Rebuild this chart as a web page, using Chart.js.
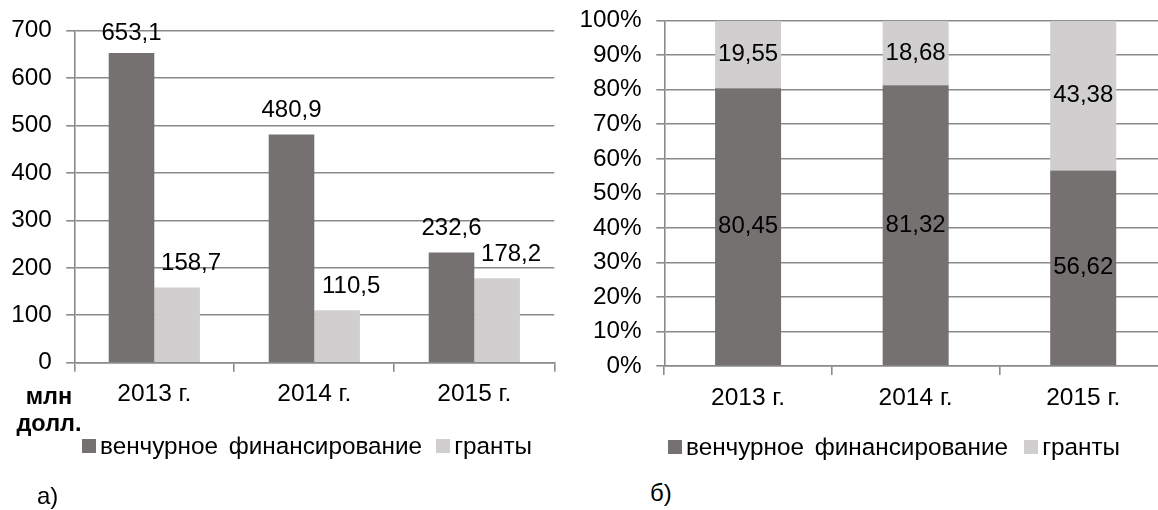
<!DOCTYPE html>
<html>
<head>
<meta charset="utf-8">
<script src="https://cdn.jsdelivr.net/npm/chart.js@4/dist/chart.umd.min.js"></script>
<style>
  html, body { margin: 0; padding: 0; background: #fff; overflow: hidden; width: 1158px; height: 510px; }
  body { position: relative; font-family: "Liberation Sans", Arial, sans-serif; color: #000; }
  canvas { position: absolute; top: 0; }
  #chartA { left: 0; }
  #chartB { left: 580px; }
  .legend { position: absolute; display: flex; align-items: center; font-size: 24.3px; white-space: nowrap; word-spacing: 4px; }
  .legend .box { display: inline-block; width: 14px; height: 14px; margin-right: 4px; }
  .legend .item { display: flex; align-items: center; }
  .unit { position: absolute; left: 0; width: 98px; text-align: center; font-weight: bold; font-size: 23.5px; line-height: 26.7px; top: 383px; }
  .tag { position: absolute; font-size: 24px; }
</style>
</head>
<body>
<canvas id="chartA" width="570" height="410"></canvas>
<canvas id="chartB" width="597" height="410"></canvas>
<div class="unit">млн<br>долл.</div>
<div class="legend" id="legendA" style="left:82px; top:432px;"></div>
<div class="legend" id="legendB" style="left:668px; top:433px;"></div>
<div class="tag" style="left:37px; top:482px;">а)</div>
<div class="tag" style="left:650px; top:479px;">б)</div>
<script>
// Data
const years = ['2013 г.', '2014 г.', '2015 г.'];
const seriesNames = ['венчурное финансирование', 'гранты'];
const ventureMln = [653.1, 480.9, 232.6];
const grantsMln = [158.7, 110.5, 178.2];
const ventureShare = [80.45, 81.32, 56.62];
const grantsShare = [19.55, 18.68, 43.38];
const mlnTicks = [0, 100, 200, 300, 400, 500, 600, 700];
const shareTicks = [0, 10, 20, 30, 40, 50, 60, 70, 80, 90, 100];

const DARK = '#767171', LIGHT = '#d0cece', GRID = '#8a8a8a';
Chart.defaults.font.family = '"Liberation Sans", Arial, sans-serif';
Chart.defaults.font.size = 24.3;
Chart.defaults.color = '#000';

// value labels on bars
const valueLabels = {
  id: 'valueLabels',
  afterDatasetsDraw(chart, args, opts) {
    const ctx = chart.ctx;
    ctx.save();
    ctx.font = '24px "Liberation Sans", Arial, sans-serif';
    ctx.fillStyle = '#000';
    ctx.textAlign = 'center';
    ctx.textBaseline = 'middle';
    chart.data.datasets.forEach((ds, i) => {
      chart.getDatasetMeta(i).data.forEach((bar, j) => {
        const txt = ds.data[j].toFixed(opts.digits).replace('.', ',');
        const x = bar.x + (opts.dx ? opts.dx[i] : 0);
        let y;
        if (opts.inside) y = (bar.y + bar.base) / 2;
        else y = Math.max(bar.y - 24, chart.chartArea.top + 3);
        ctx.fillText(txt, x, y);
      });
    });
    ctx.restore();
  }
};

function xAxis(h, pad) {
  return {
    grid: { drawOnChartArea: false, color: GRID, lineWidth: 1.6, tickLength: 9 },
    border: { color: GRID, width: 1.6 },
    ticks: { padding: pad, font: { size: 24.5 } },
    afterFit: s => { s.height = h; }
  };
}
function yAxis(w, max, step, fmt) {
  return {
    min: 0, max: max,
    grid: { color: GRID, lineWidth: 1.6, tickLength: 8 },
    border: { color: GRID, width: 1.6 },
    ticks: { stepSize: step, padding: 14.6, callback: fmt },
    afterFit: s => { s.width = w; s.paddingTop = 0; s.paddingBottom = 0; }
  };
}

new Chart(document.getElementById('chartA'), {
  type: 'bar',
  data: {
    labels: years,
    datasets: [
      { label: seriesNames[0], data: ventureMln, backgroundColor: DARK },
      { label: seriesNames[1], data: grantsMln, backgroundColor: LIGHT }
    ]
  },
  options: {
    responsive: false, animation: false,
    layout: { padding: { top: 30.7, right: 15.7, left: 0, bottom: 0 } },
    datasets: { bar: { barPercentage: 1, categoryPercentage: 0.57 } },
    plugins: {
      legend: { display: false }, tooltip: { enabled: false },
      valueLabels: { digits: 1, dx: [0, 14] }
    },
    scales: {
      x: xAxis(47.3, 7.5),
      y: yAxis(74.3, mlnTicks[mlnTicks.length - 1], mlnTicks[1] - mlnTicks[0], v => v)
    }
  },
  plugins: [valueLabels]
});

new Chart(document.getElementById('chartB'), {
  type: 'bar',
  data: {
    labels: years,
    datasets: [
      { label: seriesNames[0], data: ventureShare, backgroundColor: DARK },
      { label: seriesNames[1], data: grantsShare, backgroundColor: LIGHT }
    ]
  },
  options: {
    responsive: false, animation: false,
    layout: { padding: { top: 20.7, right: 10, left: 0, bottom: 0 } },
    datasets: { bar: { barPercentage: 1, categoryPercentage: 0.394 } },
    plugins: {
      legend: { display: false }, tooltip: { enabled: false },
      valueLabels: { digits: 2, inside: true }
    },
    scales: {
      x: Object.assign(xAxis(44, 9), { stacked: true }),
      y: Object.assign(yAxis(84.3, shareTicks[shareTicks.length - 1], shareTicks[1] - shareTicks[0], v => v + '%'), { stacked: true })
    }
  },
  plugins: [valueLabels]
});

// html legends
function buildLegend(id, gap) {
  const el = document.getElementById(id);
  el.innerHTML = seriesNames.map((n, i) =>
    `<span class="item" style="margin-right:${i === 0 ? gap : 0}px"><span class="box" style="background:${i === 0 ? DARK : LIGHT}"></span>${n}</span>`
  ).join('');
}
buildLegend('legendA', 14);
buildLegend('legendB', 16);
</script>
</body>
</html>
